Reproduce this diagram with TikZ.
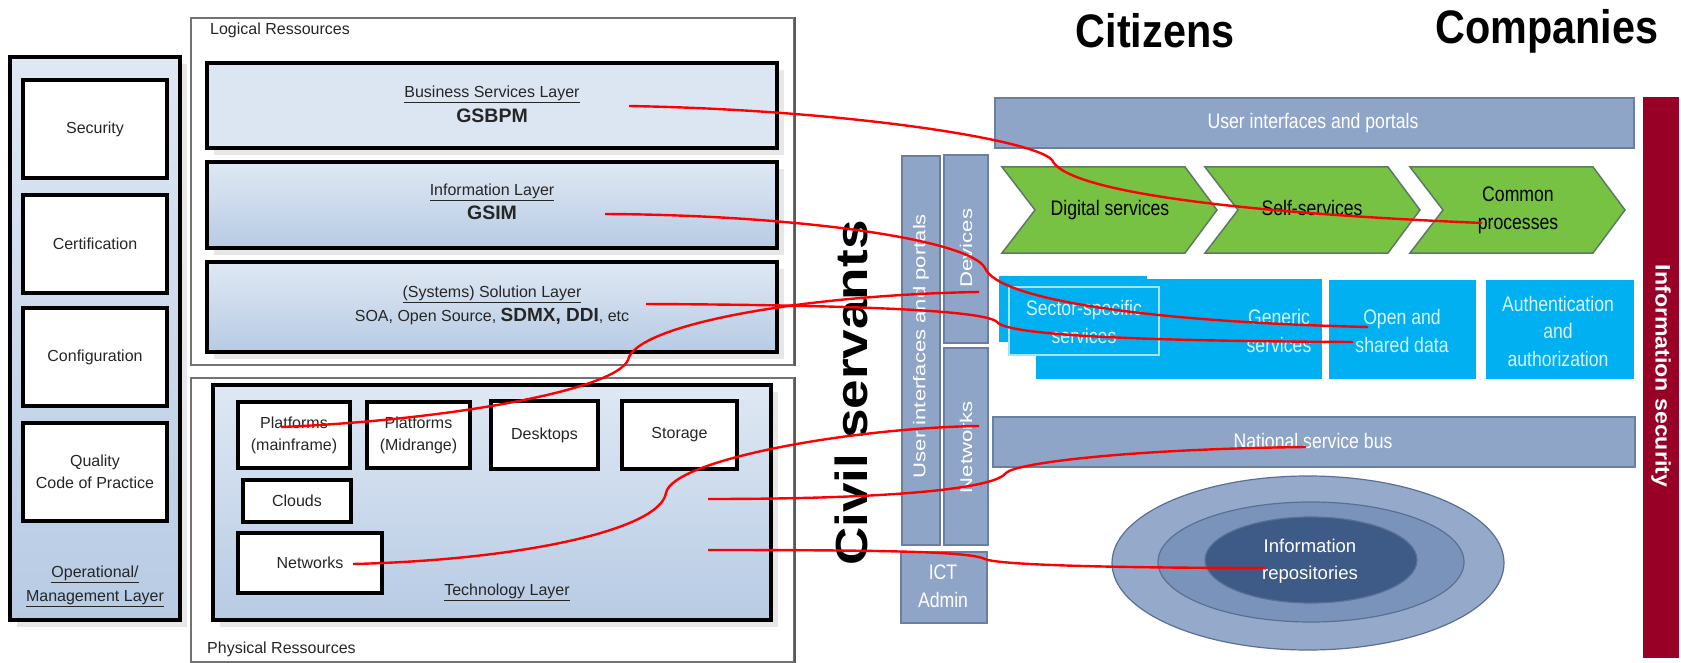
\documentclass[tikz,border=0pt]{standalone}
\usepackage{fontspec}
\setmainfont{Liberation Sans}
\newfontfamily\nar[FakeStretch=0.84]{Liberation Sans}
\newfontfamily\tall[FakeStretch=1.3]{Liberation Sans}
\newfontfamily\bignar[FakeStretch=0.88]{Liberation Sans}
\newfontfamily\civf[FakeStretch=1.18]{Liberation Sans}
\newfontfamily\isf[FakeStretch=1.1]{Liberation Sans}
\usetikzlibrary{shadows,shapes.geometric}
\definecolor{lb1}{HTML}{DFE8F3}
\definecolor{lb2}{HTML}{B7CBE4}
\definecolor{lb0}{HTML}{DCE6F2}
\definecolor{colb}{HTML}{8FA5C8}
\definecolor{colbd}{HTML}{6B7FA3}
\definecolor{grn}{HTML}{77C143}
\definecolor{grnd}{HTML}{5E7866}
\definecolor{cyn}{HTML}{00B0F0}
\definecolor{cynl}{HTML}{A8E2F8}
\definecolor{ctxt}{HTML}{D6F3FF}
\definecolor{infored}{HTML}{990026}
\definecolor{eA}{HTML}{95AACA}
\definecolor{eB}{HTML}{7A93BA}
\definecolor{eC}{HTML}{3E5A86}
\definecolor{ebd}{HTML}{5B6F93}
\definecolor{dtxt}{HTML}{262626}
\tikzset{
  blk/.style={draw=black, line width=3.5pt, inner sep=0pt},
  shd/.style={drop shadow={shadow xshift=7pt, shadow yshift=-7pt, fill=black!18, opacity=0.5}},
  wbox/.style={blk, fill=white, text=dtxt, font=\fontsize{16}{22}\selectfont, align=center},
  lay/.style={blk, top color=lb1, bottom color=lb2, shd},
  res/.style={draw=black!55, line width=1.6pt, fill=white, inner sep=0pt},
  lbl/.style={text=dtxt, font=\fontsize{16}{24}\selectfont, align=center, inner sep=0pt},
  col/.style={draw=colbd, line width=1.5pt, fill=colb, inner sep=0pt},
  rtxt/.style={font=\nar\fontsize{21}{28}\selectfont, text=white, align=center, inner sep=0pt},
  ctx/.style={font=\nar\fontsize{21}{28}\selectfont, text=ctxt, align=center, inner sep=0pt},
  vtxt/.style={font=\tall\fontsize{17}{20}\selectfont, text=white, inner sep=0pt},
  chev/.style={draw=grnd, line width=1.5pt, fill=grn},
  gtxt/.style={font=\nar\fontsize{21}{28}\selectfont, text=black, align=center, inner sep=0pt},
  cbox/.style={fill=cyn, inner sep=0pt},
  ell/.style={draw=ebd, line width=1.2pt},
  link/.style={draw=red, line width=2.4pt},
}
\begin{document}
\begin{tikzpicture}[x=1pt,y=-1pt]
\useasboundingbox (0,0) rectangle (1681,663);
\fill[white] (0,0) rectangle (1681,663);

% ---------- Operational / management column
\node[blk, top color=lb1, bottom color=lb2, minimum width=170pt, minimum height=563pt, shd] (opl) at (95,338.5) {};
\node[wbox, minimum width=144pt, minimum height=98pt] (secu) at (95,129) {Security};
\node[wbox, minimum width=144pt, minimum height=98pt] (cert) at (95,244) {Certification};
\node[wbox, minimum width=144pt, minimum height=98pt] (conf) at (95,357) {Configuration};
\node[wbox, minimum width=144pt, minimum height=98pt] (qual) at (95,472) {Quality\\Code of Practice};
\node[lbl, font=\fontsize{16}{24}\selectfont] (optxt) at (95,586) {\underline{Operational/}\\\underline{Management Layer}};

% ---------- Logical resources
\node[res, minimum width=603pt, minimum height=347pt] (logr) at (492.5,191.5) {};
\draw[black!65, line width=2.6pt] (logr.north east) -- (logr.south east);
\node[lbl, anchor=west] (logt) at (210,30) {Logical Ressources};
\node[lay, top color=lb0, bottom color=lb0, minimum width=570pt, minimum height=85pt] (bsl) at (492,105.5) {};
\node[lbl, font=\fontsize{16}{25}\selectfont] (bslt) at (492,104.5) {\underline{Business Services Layer}\\{\bfseries\fontsize{19.5}{25}\selectfont GSBPM}};
\node[lay, minimum width=570pt, minimum height=86pt] (inl) at (492,205) {};
\node[lbl, font=\fontsize{16}{24}\selectfont] (inlt) at (492,201.5) {\underline{Information Layer}\\{\bfseries\fontsize{19.5}{24}\selectfont GSIM}};
\node[lay, minimum width=570pt, minimum height=90pt] (sol) at (492,307) {};
\node[lbl, font=\fontsize{16}{24}\selectfont] (solt) at (492,305) {\underline{(Systems) Solution Layer}\\SOA, Open Source, {\bfseries\fontsize{19}{24}\selectfont SDMX, DDI}, etc};

% ---------- Physical resources
\node[res, minimum width=603pt, minimum height=284pt] (phyr) at (492.5,520) {};
\draw[black!65, line width=2.6pt] (phyr.north east) -- (phyr.south east);
\node[lbl, anchor=west] (phyt) at (207,649) {Physical Ressources};
\node[lay, minimum width=558pt, minimum height=235pt] (tech) at (492,502.5) {};
\node[lbl] (techt) at (507,592) {\underline{Technology Layer}};
\node[wbox, minimum width=112pt, minimum height=66pt] (pfm) at (294,435) {Platforms\\(mainframe)};
\node[wbox, minimum width=103pt, minimum height=66pt] (pfmid) at (418.5,435) {Platforms\\(Midrange)};
\node[wbox, minimum width=107pt, minimum height=68pt] (desk) at (544.5,435) {Desktops};
\node[wbox, minimum width=115pt, minimum height=68pt] (stor) at (679.5,435) {Storage};
\node[wbox, minimum width=108pt, minimum height=42pt] (clou) at (297,501) {Clouds};
\node[wbox, minimum width=144pt, minimum height=60pt] (netl) at (310,563) {Networks};

% ---------- Right part titles
\node[font=\bignar\bfseries\fontsize{47}{50}\selectfont, inner sep=0pt] (citi) at (1155,31) {Citizens};
\node[font=\bignar\bfseries\fontsize{47}{50}\selectfont, inner sep=0pt] (comp) at (1547,31) {Companies};
\node[font=\civf\bfseries\fontsize{45}{50}\selectfont, rotate=90, inner sep=0pt] (civ) at (851,393) {Civil servants};

% top bar
\node[col, minimum width=639pt, minimum height=50pt] (uip) at (1314.5,123) {};
\node[rtxt] (uipt) at (1313,123) {User interfaces and portals};

% chevrons
\foreach \x/\nm in {1002/ch1, 1205/ch2, 1410/ch3}{
  \draw[chev] (\x,167) -- (\x+183,167) -- (\x+215,210) -- (\x+183,253) -- (\x,253) -- (\x+33,210) -- cycle;
}
\node[gtxt] (digi) at (1110,210) {Digital services};
\node[gtxt] (self) at (1312,208) {Self-services};
\node[gtxt] (comm) at (1518,210) {Common\\processes};

% blue services
\node[cbox, minimum width=286pt, minimum height=100pt] (gen) at (1179,329) {};
\node[cbox, minimum width=148pt, minimum height=66pt] (secb) at (1073,309) {};
\node[cbox, draw=cynl, line width=1.5pt, minimum width=150pt, minimum height=68pt] (secf) at (1084,321) {};
\node[ctx] (sect) at (1084,322) {Sector-specific\\services};
\node[ctx] (gent) at (1279,331) {Generic\\services};
\node[cbox, minimum width=147pt, minimum height=99pt] (open) at (1402.5,329.5) {};
\node[ctx] (opent) at (1402,331) {Open and\\shared data};
\node[cbox, minimum width=148pt, minimum height=99pt] (auth) at (1560,329.5) {};
\node[ctx, font=\nar\fontsize{21}{27.5}\selectfont] (autht) at (1558,331) {Authentication\\and\\authorization};

% information security bar
\node[fill=infored, minimum width=36pt, minimum height=561pt, inner sep=0pt] (isec) at (1661,377.5) {};
\node[font=\isf\bfseries\fontsize{21}{24}\selectfont, text=white, rotate=-90, inner sep=0pt] (isect) at (1661,376) {Information security};

% civil-servant columns
\node[col, minimum width=38pt, minimum height=389pt] (cuip) at (921,350.5) {};
\node[vtxt, rotate=90] (cuipt) at (921,346) {User interfaces and portals};
\node[col, minimum width=44pt, minimum height=188pt] (cdev) at (966,249) {};
\node[vtxt, rotate=90] (cdevt) at (966,248) {Devices};
\node[col, minimum width=44pt, minimum height=197pt] (cnet) at (966,446.5) {};
\node[vtxt, rotate=90] (cnett) at (966,447) {Networks};
\node[col, minimum width=86pt, minimum height=71pt] (ict) at (944,587.5) {};
\node[rtxt] (ictt) at (943,586) {ICT\\Admin};

% national service bus
\node[col, minimum width=642pt, minimum height=50pt] (nsb) at (1314,442) {};
\node[rtxt] (nsbt) at (1313,441) {National service bus};

% repositories
\node[ell, fill=eA, ellipse, minimum width=392pt, minimum height=174pt, inner sep=0pt] (e1) at (1308,563) {};
\draw[ell, fill=eB] (1311,562) ellipse [x radius=153, y radius=60];
\draw[ell, fill=eC] (1311,560) ellipse [x radius=106, y radius=43];
\node[rtxt, font=\fontsize{18.5}{27}\selectfont] (rept) at (1310,561) {Information\\repositories};

% ---------- red links
\coordinate (s1) at (629,106); \coordinate (t1) at (1482,223);
\coordinate (s2) at (605,214); \coordinate (t2) at (1368,327);
\coordinate (s3) at (646,304); \coordinate (t3) at (1353,342);
\coordinate (s4) at (281,427); \coordinate (t4) at (979,292);
\coordinate (s5) at (353,564); \coordinate (t5) at (979,426);
\coordinate (s6) at (708,499); \coordinate (t6) at (1306,447);
\coordinate (s7) at (708,550); \coordinate (t7) at (1265,568);
\draw[link] (s1) .. controls (850,110) and (1035,140) .. (1052,160) .. controls (1065,190) and (1220,212) .. (t1);
\draw[link] (s2) .. controls (800,215) and (970,240) .. (985,268) .. controls (998,300) and (1150,322) .. (t2);
\draw[link] (s3) .. controls (850,305) and (985,310) .. (997,322) .. controls (1008,336) and (1150,341) .. (t3);
\draw[link] (s4) .. controls (450,420) and (615,390) .. (628,360) .. controls (635,325) and (800,295) .. (t4);
\draw[link] (s5) .. controls (520,560) and (660,530) .. (666,493) .. controls (672,460) and (850,428) .. (t5);
\draw[link] (s6) .. controls (900,499) and (995,488) .. (1006,473) .. controls (1015,463) and (1130,449) .. (t6);
\draw[link] (s7) .. controls (900,550) and (970,552) .. (985,559) .. controls (1000,566) and (1150,568) .. (t7);
\end{tikzpicture}
\end{document}
